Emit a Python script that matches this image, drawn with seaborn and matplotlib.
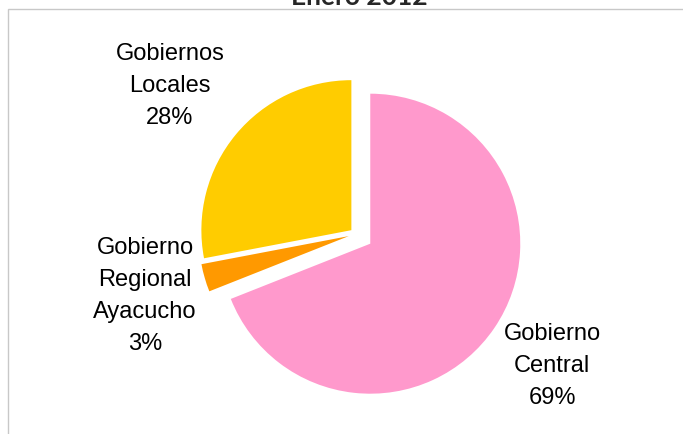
import matplotlib
matplotlib.use("Agg")
import matplotlib.pyplot as plt
import seaborn as sns
from matplotlib.patches import Rectangle

# Data
categories = ["Gobierno\nCentral", "Gobierno\nRegional\nAyacucho", "Gobiernos\nLocales"]
shares = [69, 3, 28]
title = "Enero 2012"
colors = ["#ff99cc", "#ff9900", "#ffcc00"]

# Layout (pixels, image coords)
W, H = 683, 435
cx, cy, r = 356, 235, 150
explode = [0.115, 0.05, 0.04]
label_pos = [(552, 366), (145, 296), (170, 86)]

sns.set_theme(style="white")
plt.rcParams["font.family"] = ["Liberation Sans", "DejaVu Sans"]

fig = plt.figure(figsize=(W / 100, H / 100), dpi=100)
ax = fig.add_axes([0, 0, 1, 1])

ax.pie(shares, colors=colors, explode=explode, startangle=90, counterclock=False,
       radius=1, center=(0, 0), wedgeprops=dict(linewidth=0))
ax.set_xlim(-cx / r, (W - cx) / r)
ax.set_ylim(-(H - cy) / r, cy / r)
ax.set_aspect("auto")
ax.axis("off")

def to_data(px, py):
    return (px - cx) / r, (cy - py) / r

for name, val, (px, py) in zip(categories, shares, label_pos):
    x, y = to_data(px, py)
    ax.text(x, y, f"{name}\n{val}%", ha="center", va="center", fontsize=17,
            linespacing=1.6, color="black")

# chart frame
fig.add_artist(Rectangle((8 / W, -0.2), 1.2, 1.2 - 10 / H, transform=fig.transFigure,
                         fill=False, edgecolor="#c8c8c8", linewidth=1))

fig.text(359 / W, 1 - 5 / H, title, ha="center", va="baseline", fontsize=19,
         fontweight="bold", family=["Lato", "DejaVu Sans"])

fig.savefig("out.png", dpi=100)
